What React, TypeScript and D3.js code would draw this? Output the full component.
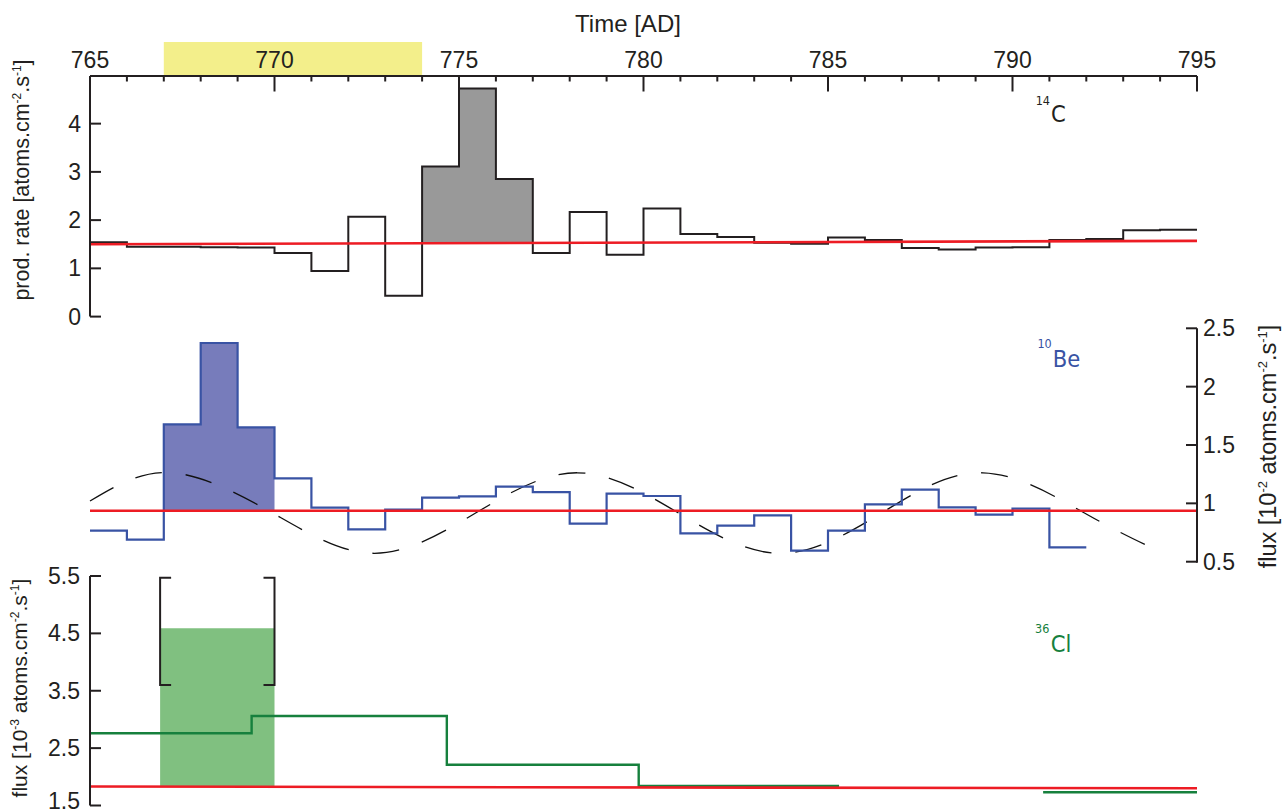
import React from "react";
import * as d3 from "d3";

// ---------- data ----------
const YEAR_DOMAIN: [number, number] = [765, 795];
const MAJOR_YEARS = [765, 770, 775, 780, 785, 790, 795];
const MINOR_YEARS = d3.range(766, 795).filter((y) => y % 5 !== 0);
const EVENT_WINDOW = [767, 774];

// 14C production rate, annual bins starting at each year
const C14_EDGES = d3.range(765, 796);
const C14_RATE = [
  1.54, 1.45, 1.45, 1.44, 1.43, 1.32, 0.945, 2.07, 0.43, 3.11,
  4.73, 2.85, 1.32, 2.17, 1.28, 2.24, 1.71, 1.65, 1.53, 1.51,
  1.64, 1.59, 1.42, 1.39, 1.43, 1.44, 1.59, 1.61, 1.79, 1.8,
];
const C14_EVENT_BINS = [774, 775, 776];
const C14_BASELINE = [1.5, 1.57];
const C14_TICKS = [0, 1, 2, 3, 4];

// 10Be flux, annual bins
const BE_EDGES = d3.range(765, 793);
const BE_FLUX = [
  0.766, 0.69, 1.677, 2.374, 1.651, 1.214, 0.963, 0.777, 0.946, 1.049,
  1.06, 1.143, 1.097, 0.826, 1.083, 1.063, 0.743, 0.809, 0.897, 0.595,
  0.766, 0.991, 1.117, 0.966, 0.903, 0.954, 0.623,
];
const BE_EVENT_BINS = [767, 768, 769];
const BE_BASELINE = [0.937, 0.937];
const BE_TICKS = [0.5, 1, 1.5, 2, 2.5];
// Schwabe-cycle curve (peaks, troughs and mean crossings)
const CYCLE_YEARS = [765, 767.2, 769.95, 772.7, 775.45, 778.2, 780.95, 783.7, 786.45, 789.2, 791.95, 793.8];
const CYCLE_FLUX = [1.02, 1.262, 0.917, 0.572, 0.917, 1.262, 0.917, 0.572, 0.917, 1.262, 0.917, 0.616];

// 36Cl flux, multi-year samples (null = no sample)
const CL_EDGES = [765, 769.38, 774.67, 779.87, 785.3, 790.83, 795];
const CL_FLUX: (number | null)[] = [2.76, 3.06, 2.21, 1.84, null, 1.73];
const CL_PEAK_SPAN = [766.9, 770];
const CL_PEAK_FLUX = 4.59;
const CL_PEAK_RANGE = [3.6, 5.47];
const CL_BASELINE = [1.83, 1.8];
const CL_TICKS = [1.5, 2.5, 3.5, 4.5, 5.5];

// ---------- styling ----------
const AXIS = "#231f20";
const RED = "#ed1c24";
const BLUE = "#3953a4";
const GREEN = "#16803d";
const FONT = "'Liberation Sans', Arial, Helvetica, sans-serif";
const LABEL_FONT = "'DejaVu Sans Condensed', 'DejaVu Sans', sans-serif";

type Pt = [number, number] | null;

function stepPoints(edges: number[], values: (number | null)[]): Pt[] {
  const pts: Pt[] = [];
  values.forEach((v, i) => {
    if (v == null) {
      pts.push(null);
    } else {
      pts.push([edges[i], v], [edges[i + 1], v]);
    }
  });
  return pts;
}

function binPoints(edges: number[], values: number[], bins: number[]): [number, number][] {
  const pts: [number, number][] = [];
  bins.forEach((b) => {
    const i = edges.indexOf(b);
    pts.push([edges[i], values[i]], [edges[i + 1], values[i]]);
  });
  return pts;
}

function UnitTitle({ x, y, size, prefix, power }: { x: number; y: number; size: number; prefix: string; power?: string }) {
  const sup = Math.round(size * 0.55);
  const up = -size * 0.38;
  return (
    <text transform={`translate(${x},${y}) rotate(-90)`} fontSize={size} textAnchor="middle" fill={AXIS}>
      {prefix}
      {power ? (
        <>
          <tspan fontSize={sup} dy={up}>{power}</tspan>
          <tspan dy={-up}>{" atoms.cm"}</tspan>
        </>
      ) : (
        <tspan>{"atoms.cm"}</tspan>
      )}
      <tspan fontSize={sup} dy={up}>-2</tspan>
      <tspan dy={-up}>.s</tspan>
      <tspan fontSize={sup} dy={up}>-1</tspan>
      <tspan dy={-up}>]</tspan>
    </text>
  );
}

export default function App() {
  const x = d3.scaleLinear().domain(YEAR_DOMAIN).range([90, 1197]);
  const y14 = d3.scaleLinear().domain([0, 5]).range([316.6, 75.4]);
  const yBe = d3.scaleLinear().domain([0.5, 2.5]).range([561.7, 328.3]);
  const yCl = d3.scaleLinear().domain([1.5, 5.5]).range([805.5, 576]);

  const base14 = d3.scaleLinear().domain(YEAR_DOMAIN).range(C14_BASELINE);
  const baseBe = d3.scaleLinear().domain(YEAR_DOMAIN).range(BE_BASELINE);
  const baseCl = d3.scaleLinear().domain(YEAR_DOMAIN).range(CL_BASELINE);

  const stepLine = (y: d3.ScaleLinear<number, number>) =>
    d3
      .line<Pt>()
      .defined((d) => d != null)
      .x((d) => x((d as [number, number])[0]))
      .y((d) => y((d as [number, number])[1]));

  const fillArea = (y: d3.ScaleLinear<number, number>, base: d3.ScaleLinear<number, number>) =>
    d3
      .area<[number, number]>()
      .x((d) => x(d[0]))
      .y0((d) => y(base(d[0])))
      .y1((d) => y(d[1]));

  const baseLine = (y: d3.ScaleLinear<number, number>, vals: number[]) =>
    d3.line<number>().x((_, i) => x(YEAR_DOMAIN[i])).y((v) => y(v))(vals) as string;

  const cyclePath = d3
    .line<number>()
    .x((_, i) => x(CYCLE_YEARS[i]))
    .y((v) => yBe(v))
    .curve(d3.curveNatural)(CYCLE_FLUX) as string;

  const c14Fill = fillArea(y14, base14)(binPoints(C14_EDGES, C14_RATE, C14_EVENT_BINS)) as string;
  const beFill = fillArea(yBe, baseBe)(binPoints(BE_EDGES, BE_FLUX, BE_EVENT_BINS)) as string;
  const clFill = fillArea(yCl, baseCl)([
    [CL_PEAK_SPAN[0], CL_PEAK_FLUX],
    [CL_PEAK_SPAN[1], CL_PEAK_FLUX],
  ]) as string;

  const bx0 = x(CL_PEAK_SPAN[0]);
  const bx1 = x(CL_PEAK_SPAN[1]);
  const byTop = yCl(CL_PEAK_RANGE[1]);
  const byBot = yCl(CL_PEAK_RANGE[0]);
  const stub = 11;
  const bracketPath =
    `M${bx0 + stub},${byTop}H${bx0}V${byBot}H${bx0 + stub}` +
    `M${bx1 - stub},${byTop}H${bx1}V${byBot}H${bx1 - stub}`;

  const xAxisY = 76;
  const leftX = x(YEAR_DOMAIN[0]);
  const rightX = x(YEAR_DOMAIN[1]);
  const tickLen = 11;

  return (
    <svg
      width={1287}
      height={812}
      style={{ position: "absolute", left: 0, top: 0, background: "#fff" }}
      fontFamily={FONT}
    >
      {/* event window on the time axis */}
      <rect
        x={x(EVENT_WINDOW[0])}
        y={42}
        width={x(EVENT_WINDOW[1]) - x(EVENT_WINDOW[0])}
        height={xAxisY - 42}
        fill="#f3ef8b"
      />

      {/* time axis */}
      <text x={628} y={32} fontSize={24} textAnchor="middle" fill={AXIS}>
        Time [AD]
      </text>
      <line x1={leftX} x2={rightX} y1={xAxisY} y2={xAxisY} stroke={AXIS} strokeWidth={2} />
      {MAJOR_YEARS.map((yr) => (
        <g key={"M" + yr}>
          <line x1={x(yr)} x2={x(yr)} y1={xAxisY} y2={xAxisY + 15.5} stroke={AXIS} strokeWidth={2} />
          <text x={x(yr)} y={68} fontSize={23} textAnchor="middle" fill={AXIS}>
            {yr}
          </text>
        </g>
      ))}
      {MINOR_YEARS.map((yr) => (
        <line key={"m" + yr} x1={x(yr)} x2={x(yr)} y1={xAxisY} y2={xAxisY + 5.5} stroke={AXIS} strokeWidth={2} />
      ))}

      {/* ---- 14C panel ---- */}
      <path d={c14Fill} fill="#999999" />
      <path d={stepLine(y14)(stepPoints(C14_EDGES, C14_RATE)) as string} fill="none" stroke={AXIS} strokeWidth={2} />
      <path d={baseLine(y14, C14_BASELINE)} fill="none" stroke={RED} strokeWidth={2.6} />
      <line x1={leftX} x2={leftX} y1={xAxisY} y2={y14(0)} stroke={AXIS} strokeWidth={2} />
      {C14_TICKS.map((t) => (
        <g key={"c" + t}>
          <line x1={leftX} x2={leftX + tickLen} y1={y14(t)} y2={y14(t)} stroke={AXIS} strokeWidth={2} />
          <text x={81} y={y14(t)} dy="0.35em" fontSize={23} textAnchor="end" fill={AXIS}>
            {t}
          </text>
        </g>
      ))}
      <text transform="translate(28.5,180) rotate(-90)" fontSize={21.5} textAnchor="middle" fill={AXIS}>
        prod. rate [atoms.cm
        <tspan fontSize={12} dy={-8}>-2</tspan>
        <tspan dy={8}>.s</tspan>
        <tspan fontSize={12} dy={-8}>-1</tspan>
        <tspan dy={8}>]</tspan>
      </text>
      <g fontFamily={LABEL_FONT} fill={AXIS}>
        <text x={1050} y={105} fontSize={12.5} textAnchor="end">14</text>
        <text x={1051} y={122.3} fontSize={23.5}>C</text>
      </g>

      {/* ---- 10Be panel ---- */}
      <path d={beFill} fill="#777cbb" />
      <path d={cyclePath} fill="none" stroke="#111" strokeWidth={1.3} strokeDasharray="27 24" />
      <path d={stepLine(yBe)(stepPoints(BE_EDGES, BE_FLUX)) as string} fill="none" stroke={BLUE} strokeWidth={2.2} />
      <path d={baseLine(yBe, BE_BASELINE)} fill="none" stroke={RED} strokeWidth={2.6} />
      <line x1={rightX} x2={rightX} y1={yBe(2.5)} y2={yBe(0.5) + 1} stroke={AXIS} strokeWidth={2} />
      {BE_TICKS.map((t) => (
        <g key={"b" + t}>
          <line x1={rightX - tickLen} x2={rightX} y1={yBe(t)} y2={yBe(t)} stroke={AXIS} strokeWidth={2} />
          <text x={1203} y={yBe(t)} dy="0.35em" fontSize={23} fill={AXIS}>
            {t}
          </text>
        </g>
      ))}
      <UnitTitle x={1276} y={446.5} size={23.5} prefix="flux [10" power="-2" />
      <g fontFamily={LABEL_FONT} fill={BLUE}>
        <text x={1051.7} y={347.7} fontSize={12.5} textAnchor="end">10</text>
        <text x={1052.7} y={367.3} fontSize={23.5}>Be</text>
      </g>

      {/* ---- 36Cl panel ---- */}
      <path d={clFill} fill="#80c080" />
      <path d={bracketPath} fill="none" stroke={AXIS} strokeWidth={2} />
      <path d={stepLine(yCl)(stepPoints(CL_EDGES, CL_FLUX)) as string} fill="none" stroke={GREEN} strokeWidth={2.4} />
      <path d={baseLine(yCl, CL_BASELINE)} fill="none" stroke={RED} strokeWidth={2.6} />
      <line x1={leftX} x2={leftX} y1={yCl(5.5)} y2={yCl(1.5)} stroke={AXIS} strokeWidth={2} />
      {CL_TICKS.map((t) => (
        <g key={"l" + t}>
          <line x1={leftX} x2={leftX + tickLen} y1={yCl(t)} y2={yCl(t)} stroke={AXIS} strokeWidth={2} />
          <text x={80} y={Math.min(yCl(t) + 8, 808.5)} fontSize={23} textAnchor="end" fill={AXIS}>
            {t}
          </text>
        </g>
      ))}
      <UnitTitle x={27} y={688} size={21} prefix="flux [10" power="-3" />
      <g fontFamily={LABEL_FONT} fill={GREEN}>
        <text x={1049.3} y={633} fontSize={12.5} textAnchor="end">36</text>
        <text x={1050.7} y={652.3} fontSize={23.5}>Cl</text>
      </g>
    </svg>
  );
}
